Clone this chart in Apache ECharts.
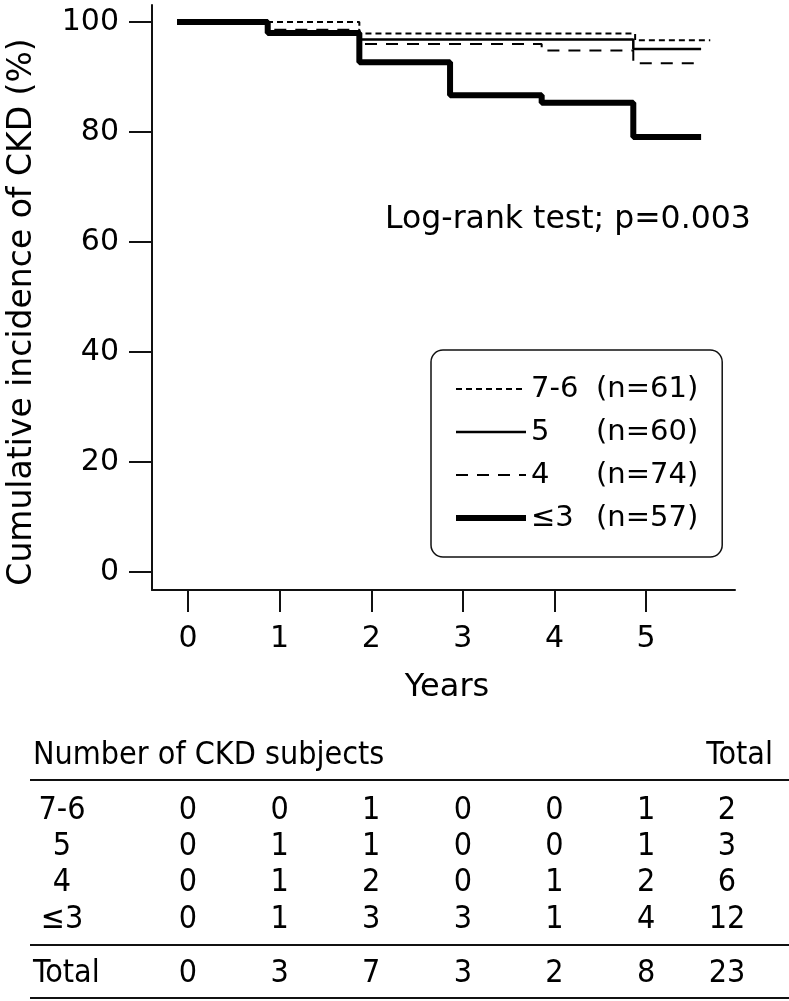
<!DOCTYPE html>
<html lang="en">
<head>
<meta charset="UTF-8">
<title>CKD cumulative incidence</title>
<script src="https://cdn.jsdelivr.net/npm/echarts@6/dist/echarts.min.js"></script>
<style>
    html, body { margin: 0; padding: 0; background: #fff; }
    #main { width: 789px; height: 1001px; }
</style>
</head>
<body>
<div id="main"></div>
<script>
// groups (legend) and sizes
var groupNames = ['7-6', '5', '4', '≤3'];
var groupN = [61, 60, 74, 57];

// step curves: [years, cumulative %]
var curve76 = [[-0.12, 100], [1.87, 97.9], [4.88, 96.7], [5.7, 96.7]];
var curve5 = [[-0.12, 100], [0.87, 98.3], [1.87, 96.8], [4.86, 95.1], [5.6, 95.1]];
var curve4 = [[-0.12, 100], [0.87, 98.6], [1.87, 96.0], [3.86, 94.8], [4.86, 92.5], [5.6, 92.5]];
var curve3 = [[-0.12, 100], [0.87, 98.0], [1.87, 92.7], [2.86, 86.7], [3.86, 85.3], [4.86, 79.1], [5.6, 79.1]];

var xTicks = [0, 1, 2, 3, 4, 5];
var yTicks = [0, 20, 40, 60, 80, 100];

// number of CKD subjects per year (last = total)
var tableRows = ['7-6', '5', '4', '≤3'];
var events76 = [0, 0, 1, 0, 0, 1, 2];
var events5 = [0, 1, 1, 0, 0, 1, 3];
var events4 = [0, 1, 2, 0, 1, 2, 6];
var events3 = [0, 1, 3, 3, 1, 4, 12];
var eventsTotal = [0, 3, 7, 3, 2, 8, 23];

var FONT = 'DejaVu Sans';
var lineWidths = [2, 2.5, 2, 6];
var lineTypes = [[6, 4], 'solid', [12, 9], 'solid'];
var curves = [curve76, curve5, curve4, curve3];

var chart = echarts.init(document.getElementById('main'));

var series = groupNames.map(function (name, i) {
    return {
        name: name,
        type: 'line',
        step: 'end',
        data: curves[i],
        symbol: 'none',
        showSymbol: false,
        color: '#000',
        lineStyle: {color: '#000', width: lineWidths[i], type: lineTypes[i]}
    };
});

var option = {
    backgroundColor: '#fff',
    animation: false,
    grid: {left: 152, top: 5, width: 583, height: 585},
    xAxis: {
        type: 'value',
        min: -0.393,
        max: 5.97,
        splitLine: {show: false},
        axisLine: {onZero: false, lineStyle: {color: '#111', width: 2}},
        axisTick: {show: true, inside: false, length: 22, customValues: xTicks, lineStyle: {color: '#111', width: 2}},
        axisLabel: {customValues: xTicks, margin: 34, fontSize: 30, color: '#000', fontFamily: FONT}
    },
    yAxis: {
        type: 'value',
        min: -3.27,
        max: 103.09,
        splitLine: {show: false},
        axisLine: {show: true, onZero: false, lineStyle: {color: '#111', width: 2}},
        axisTick: {show: true, inside: false, length: 23, customValues: yTicks, lineStyle: {color: '#111', width: 2}},
        axisLabel: {customValues: yTicks, margin: 33, fontSize: 30, color: '#000', fontFamily: FONT}
    },
    legend: {
        data: groupNames.map(function (name, i) {
            return {name: name, lineStyle: {width: lineWidths[i], type: lineTypes[i], color: '#000'}};
        }),
        orient: 'vertical',
        left: 431,
        top: 350,
        padding: [23, 24, 23, 22],
        itemGap: 11,
        itemWidth: 70,
        itemHeight: 20,
        borderColor: '#111',
        borderWidth: 1.5,
        borderRadius: 12,
        selectedMode: false,
        itemStyle: {opacity: 0},
        textStyle: {
            fontSize: 29, color: '#000', fontFamily: FONT, lineHeight: 32,
            rich: {a: {width: 65, fontSize: 29, fontFamily: FONT}, b: {fontSize: 29, fontFamily: FONT}}
        },
        formatter: function (name) {
            var i = groupNames.indexOf(name);
            return '{a|' + name + '}{b|(n=' + groupN[i] + ')}';
        }
    },
    series: series
};
chart.setOption(option);

// texts and the events table
var g = [];
g.push({type: 'text', x: 22, y: 312, rotation: Math.PI / 2,
    style: {text: 'Cumulative incidence of CKD (%)', font: '33px ' + FONT, fill: '#000', align: 'center', verticalAlign: 'middle'}});
g.push({type: 'text', x: 447, y: 688,
    style: {text: 'Years', font: '32px ' + FONT, fill: '#000', align: 'center', verticalAlign: 'middle'}});
g.push({type: 'text', x: 385, y: 220,
    style: {text: 'Log-rank test; p=0.003', font: '31.5px ' + FONT, fill: '#000', align: 'left', verticalAlign: 'middle'}});

var TFONT = '32px DejaVu Sans Condensed';
g.push({type: 'text', x: 33, y: 756, style: {text: 'Number of CKD subjects', font: TFONT, fill: '#000', verticalAlign: 'middle'}});
g.push({type: 'text', x: 773, y: 756, style: {text: 'Total', font: TFONT, fill: '#000', align: 'right', verticalAlign: 'middle'}});

[780, 945, 998].forEach(function (yy) {
    g.push({type: 'line', shape: {x1: 30, y1: yy, x2: 789, y2: yy}, style: {stroke: '#111', lineWidth: 2}});
});

var colX = xTicks.map(function (t) { return chart.convertToPixel({xAxisIndex: 0}, t); });
colX.push(727);
var rowData = [events76, events5, events4, events3];
var rowY = [811, 847, 883, 920];
function addRow(label, vals, y, lx, la) {
    g.push({type: 'text', x: lx, y: y, style: {text: label, font: TFONT, fill: '#000', align: la, verticalAlign: 'middle'}});
    vals.forEach(function (v, i) {
        g.push({type: 'text', x: colX[i], y: y, style: {text: String(v), font: TFONT, fill: '#000', align: 'center', verticalAlign: 'middle'}});
    });
}
tableRows.forEach(function (r, k) { addRow(r, rowData[k], rowY[k], 62, 'center'); });
addRow('Total', eventsTotal, 974, 33, 'left');

chart.setOption({graphic: g});
</script>
</body>
</html>
